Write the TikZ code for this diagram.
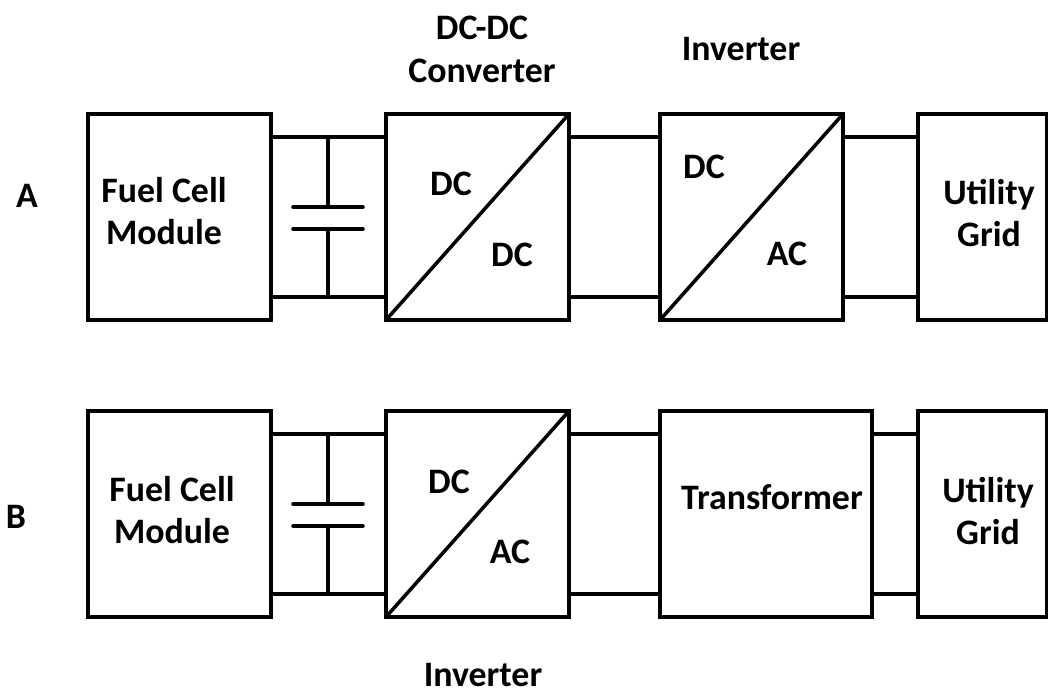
\documentclass[tikz,border=0pt]{standalone}
\usepackage{fontspec}
\setmainfont{Carlito}
\usepackage{tikz}
\usetikzlibrary{
	positioning,
	calc
}

\tikzset{
	blockbox/.style={draw,line width=2.1pt,inner sep=0pt,outer sep=0pt,minimum height=4.12cm},
	wire/.style={line width=2pt},
	plate/.style={line width=2pt,line cap=round},
	lbl/.style={font=\fontsize{20.4}{24.4}\selectfont\bfseries,align=center,inner sep=0pt}
}

\begin{document}
\begin{tikzpicture}[x=0.02cm,y=-0.02cm]
		
		\useasboundingbox (0,0) rectangle (1048,693);
		
		% row A
		\node[blockbox,minimum width=3.66cm] (fuelA) at (179.5,217) {};
		\node[blockbox,minimum width=3.66cm] (convA) at (477.5,217) {};
		\node[blockbox,minimum width=3.66cm] (invA) at (751.5,217) {};
		\node[blockbox,minimum width=2.58cm] (gridA) at (982.5,217) {};
		
		\coordinate (topA) at (0,137);
		\coordinate (botA) at (0,297);
		\coordinate (capA) at (328,0);
		
		\draw[wire] (fuelA.east |- topA) -- (convA.west |- topA);
		\draw[wire] (fuelA.east |- botA) -- (convA.west |- botA);
		\draw[wire] (convA.east |- topA) -- (invA.west |- topA);
		\draw[wire] (convA.east |- botA) -- (invA.west |- botA);
		\draw[wire] (invA.east |- topA) -- (gridA.west |- topA);
		\draw[wire] (invA.east |- botA) -- (gridA.west |- botA);
		
		\draw[wire] (convA.south west) -- (convA.north east);
		\draw[wire] (invA.south west) -- (invA.north east);
		
		% capacitor A
		\coordinate (plateAa) at (328,207);
		\coordinate (plateAb) at (328,229);
		\draw[wire] (capA |- topA) -- (plateAa);
		\draw[wire] (plateAb) -- (capA |- botA);
		\draw[plate] ($(plateAa)+(-35,0)$) -- ($(plateAa)+(35,0)$);
		\draw[plate] ($(plateAb)+(-35,0)$) -- ($(plateAb)+(35,0)$);
		
		% row B
		\node[blockbox,minimum width=3.66cm] (fuelB) at (179.5,514) {};
		\node[blockbox,minimum width=3.66cm] (convB) at (477.5,514) {};
		\node[blockbox,minimum width=4.24cm] (trafoB) at (766,514) {};
		\node[blockbox,minimum width=2.58cm] (gridB) at (982.5,514) {};
		
		\coordinate (topB) at (0,434);
		\coordinate (botB) at (0,594);
		
		\draw[wire] (fuelB.east |- topB) -- (convB.west |- topB);
		\draw[wire] (fuelB.east |- botB) -- (convB.west |- botB);
		\draw[wire] (convB.east |- topB) -- (trafoB.west |- topB);
		\draw[wire] (convB.east |- botB) -- (trafoB.west |- botB);
		\draw[wire] (trafoB.east |- topB) -- (gridB.west |- topB);
		\draw[wire] (trafoB.east |- botB) -- (gridB.west |- botB);
		
		\draw[wire] (convB.south west) -- (convB.north east);
		
		% capacitor B
		\coordinate (plateBa) at (328,504);
		\coordinate (plateBb) at (328,526);
		\draw[wire] (capA |- topB) -- (plateBa);
		\draw[wire] (plateBb) -- (capA |- botB);
		\draw[plate] ($(plateBa)+(-35,0)$) -- ($(plateBa)+(35,0)$);
		\draw[plate] ($(plateBb)+(-35,0)$) -- ($(plateBb)+(35,0)$);
		
		% labels
		\node[lbl] (rowA) at (27,196) {A};
		\node[lbl] (rowB) at (16,517) {B};
		\node[lbl] (fuelAtxt) at (164,211) {Fuel Cell\\Module};
		\node[lbl] (fuelBtxt) at (172,510) {Fuel Cell\\Module};
		\node[lbl] (gridAtxt) at (989,213) {Utility\\Grid};
		\node[lbl] (gridBtxt) at (988,511) {Utility\\Grid};
		\node[lbl] (trafoTxt) at (772,497) {Transformer};
		\node[lbl] (convTitle) at (482,49) {DC-DC\\Converter};
		\node[lbl] (invTitle) at (741,49) {Inverter};
		\node[lbl] (invBot) at (483,675) {Inverter};
		\node[lbl] (convAin) at (451,184) {DC};
		\node[lbl] (convAout) at (512,255) {DC};
		\node[lbl] (invAin) at (704,167) {DC};
		\node[lbl] (invAout) at (787,254) {AC};
		\node[lbl] (convBin) at (449,482) {DC};
		\node[lbl] (convBout) at (510,552) {AC};
		
	\end{tikzpicture}
\end{document}
